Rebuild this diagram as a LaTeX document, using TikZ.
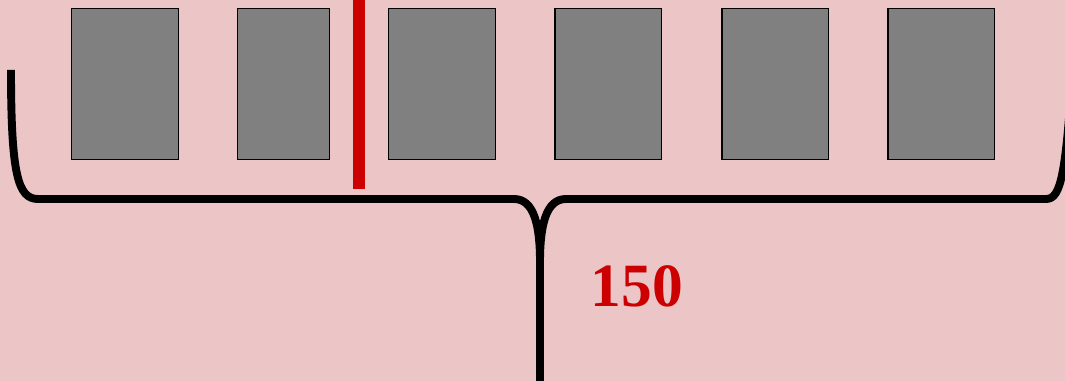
\documentclass[tikz,border=0pt]{standalone}
\usepackage{fontspec}
\setmainfont{Liberation Serif}
\usepackage{xcolor}
\usepackage{tikz}
\usetikzlibrary{calc}
\definecolor{paper}{RGB}{236, 197, 199}
\definecolor{block}{RGB}{128, 128, 128}
\definecolor{marker}{RGB}{204, 0, 0}

\begin{document}
\begin{tikzpicture}[x=0.02cm,y=-0.02cm,
  slot/.style={draw=black,line width=0.85pt,fill=block,minimum height=3.02cm,inner sep=0pt,anchor=north west}]
\fill[paper] (0,0) rectangle (1065,381);
\useasboundingbox (0,0) rectangle (1065,381);
\node[slot,minimum width=2.14cm] (b1) at (71,8) {};
\node[slot,minimum width=1.84cm] (b2) at (237,8) {};
\node[slot,minimum width=2.14cm] (b3) at (388,8) {};
\node[slot,minimum width=2.14cm] (b4) at (554,8) {};
\node[slot,minimum width=2.14cm] (b5) at (721,8) {};
\node[slot,minimum width=2.14cm] (b6) at (887,8) {};
\coordinate (Ctop) at (359,-5);
\coordinate (Cbot) at (359,189);
\draw[marker,line width=6.8pt] (Ctop) -- (Cbot);
\coordinate (L) at (11,70);
\coordinate (R) at (1073,60);
\coordinate (T) at (540,390);
\draw[black,line width=4.5pt,line join=round]
  (L) .. controls (11,175) and (18,199) .. (38,199) -- (514,199)
  .. controls (534,199) and (540,225) .. (540,262) -- (T);
\draw[black,line width=4.5pt,line join=round]
  (540,262) .. controls (540,225) and (546,199) .. (566,199) -- (1046,199)
  .. controls (1061,199) and (1066,175) .. (R);
\node[marker,font=\fontsize{35}{40}\selectfont\bfseries] (len) at (637,286) {150};
\end{tikzpicture}
\end{document}
